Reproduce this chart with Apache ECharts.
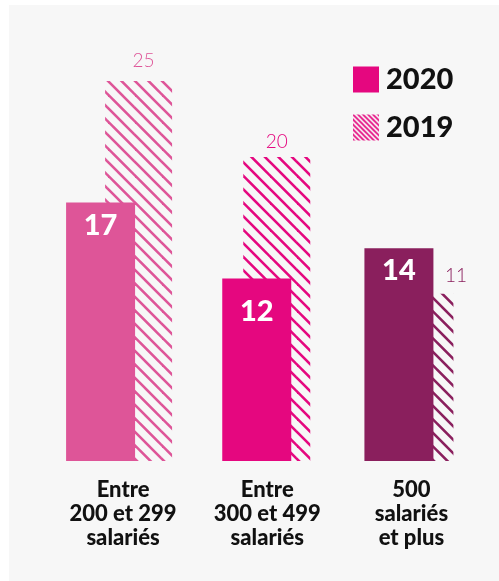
<!DOCTYPE html>
<html>
<head>
<meta charset="utf-8">
<script src="https://cdn.jsdelivr.net/npm/echarts@6/dist/echarts.min.js"></script>
<style>
  html, body { margin: 0; padding: 0; background: #ffffff; }
  #panel { position: absolute; left: 9px; top: 5px; width: 490px; height: 576px; background: #f7f7f7; }
  #chart { position: absolute; left: 0; top: 0; width: 499px; height: 581px; }
</style>
</head>
<body>
<div id="panel"></div>
<div id="chart"></div>
<script>
// Company size bands
const categories = ['Entre\n200 et 299\nsalariés', 'Entre\n300 et 499\nsalariés', '500\nsalariés\net plus'];
// Values per year
const values2020 = [17, 12, 14];
const values2019 = [25, 20, 11];
const years = ['2020', '2019'];

// Colour per size band (solid bar and its hatched companion)
const bandColors = ['#de5598', '#e5077f', '#8a1f5d'];
const legendColor = '#e5077f';

// Horizontal placement of each bar relative to its category centre (px)
const left2020 = [-57, -45, -47];
const left2019 = [-18, -24, -25];
const width2020 = 69;
const width2019 = 67;
// Label placement tweaks (px)
const label2020Dy = [23, 33, 22];
const label2019Dx = [5, 0, 36];
const label2019Dy = [-20, -15, -18];

// Diagonal stripe fill: tile size, stripes per tile, stroke width
function hatch(color, s, n, lw) {
  const c = document.createElement('canvas');
  c.width = c.height = s;
  const g = c.getContext('2d');
  g.strokeStyle = color;
  g.lineWidth = lw;
  for (let k = -n; k <= n; k++) {
    const x0 = k * s / n;
    g.beginPath();
    g.moveTo(x0 - 2, -2);
    g.lineTo(x0 + s + 2, s + 2);
    g.stroke();
  }
  return { image: c, repeat: 'repeat' };
}
const bandHatches = bandColors.map(c => hatch(c, 27, 2, 2.6));
const legendHatch = hatch(legendColor, 10, 2, 1.6);

const heavyFont = 'Lato, "Noto Sans", sans-serif';

const chart = echarts.init(document.getElementById('chart'), null, { renderer: 'canvas' });

function renderSolid(params, api) {
  const i = api.value(0);
  const base = api.coord([i, 0]);
  const top = api.coord([i, api.value(1)]);
  const x = base[0] + left2020[i];
  return {
    type: 'group',
    children: [
      {
        type: 'rect',
        shape: { x: x, y: top[1], width: width2020, height: base[1] - top[1] },
        style: { fill: bandColors[i] }
      },
      {
        type: 'text',
        x: x + width2020 / 2,
        y: top[1] + label2020Dy[i],
        style: {
          text: String(api.value(1)),
          fill: '#ffffff',
          font: '900 29px ' + heavyFont,
          align: 'center',
          verticalAlign: 'middle'
        }
      }
    ]
  };
}

function renderHatched(params, api) {
  const i = api.value(0);
  const base = api.coord([i, 0]);
  const top = api.coord([i, api.value(1)]);
  const x = base[0] + left2019[i];
  return {
    type: 'group',
    children: [
      {
        type: 'rect',
        shape: { x: x, y: top[1], width: width2019, height: base[1] - top[1] },
        style: { fill: bandHatches[i] }
      },
      {
        type: 'text',
        x: x + width2019 / 2 + label2019Dx[i],
        y: top[1] + label2019Dy[i],
        style: {
          text: String(api.value(1)),
          fill: bandColors[i],
          font: '300 19px ' + heavyFont,
          align: 'center',
          verticalAlign: 'middle'
        }
      }
    ]
  };
}

chart.setOption({
  animation: false,
  backgroundColor: 'transparent',
  grid: { left: 51, right: 15.5, top: 81, bottom: 120 },
  legend: {
    orient: 'vertical',
    left: 348,
    top: 60,
    itemWidth: 26,
    itemHeight: 26,
    itemGap: 19,
    selectedMode: false,
    textStyle: { fontSize: 29, fontWeight: 900, color: '#111111', fontFamily: heavyFont, padding: [0, 0, 0, 2] },
    data: [
      { name: years[0], icon: 'rect', itemStyle: { color: legendColor } },
      { name: years[1], icon: 'rect', itemStyle: { color: legendHatch } }
    ]
  },
  xAxis: {
    type: 'category',
    data: categories,
    axisLine: { show: false },
    axisTick: { show: false },
    axisLabel: {
      interval: 0,
      margin: 17,
      fontSize: 22,
      fontWeight: 900,
      fontFamily: heavyFont,
      color: '#111111',
      lineHeight: 24
    }
  },
  yAxis: { type: 'value', min: 0, max: 25, show: false },
  series: [
    {
      name: years[1],
      type: 'custom',
      renderItem: renderHatched,
      itemStyle: { color: legendColor },
      data: values2019.map((v, i) => [i, v]),
      z: 2
    },
    {
      name: years[0],
      type: 'custom',
      renderItem: renderSolid,
      itemStyle: { color: legendColor },
      data: values2020.map((v, i) => [i, v]),
      z: 3
    }
  ]
});
</script>
</body>
</html>
